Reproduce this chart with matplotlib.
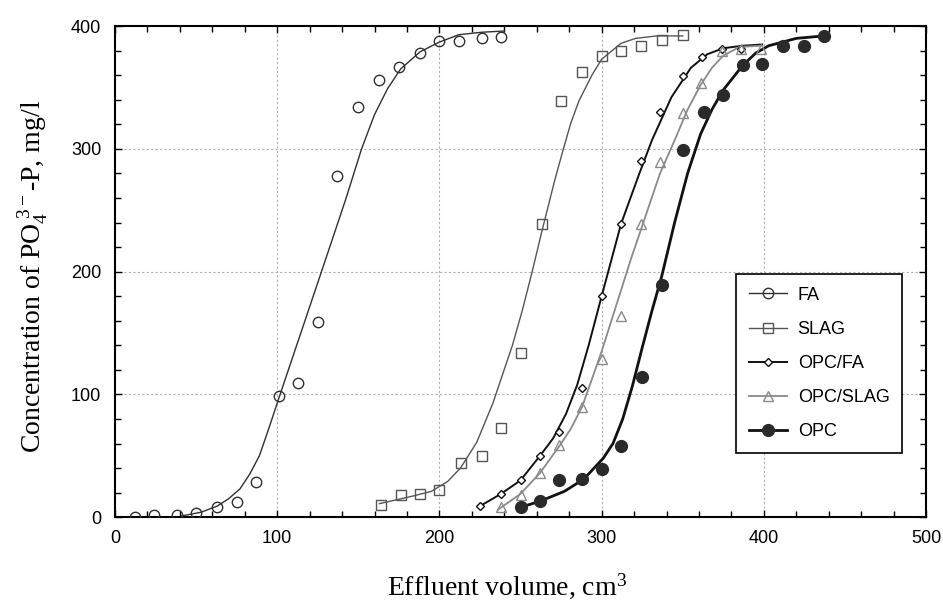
import numpy as np
import matplotlib
matplotlib.use("Agg")
import matplotlib.pyplot as plt
from matplotlib.ticker import MultipleLocator

# measured points (effluent volume cm3, P concentration mg/l)
fa_x = [12, 24, 38, 50, 63, 75, 87, 101, 113, 125, 137, 150, 163, 175, 188, 200, 212, 226, 238]
fa_y = [0, 1.5, 2, 3.5, 8, 12, 29, 99, 109, 159, 278, 334, 356, 367, 378, 388, 388, 390, 391]
slag_x = [164, 176, 188, 200, 213, 226, 238, 250, 263, 275, 288, 300, 312, 324, 337, 350]
slag_y = [10, 18, 19, 22, 44, 50, 73, 134, 239, 339, 363, 376, 380, 384, 389, 393]
opcfa_x = [225, 238, 250, 262, 274, 288, 300, 312, 324, 336, 350, 362, 374, 386]
opcfa_y = [9, 19, 30, 50, 69, 105, 180, 239, 290, 330, 359, 375, 381, 381]
opcslag_x = [238, 250, 262, 274, 288, 300, 312, 324, 336, 350, 361, 374, 386, 398]
opcslag_y = [8, 18, 36, 59, 90, 129, 164, 239, 289, 329, 354, 380, 381, 381]
opc_x = [250, 262, 274, 288, 300, 312, 325, 337, 350, 363, 375, 387, 399, 412, 425, 437]
opc_y = [8, 13, 30, 31, 39, 58, 114, 189, 299, 330, 344, 368, 369, 384, 384, 392]

# fitted curves
fa_fit_x = [41, 53, 63, 70, 77, 83, 89, 95, 101, 113, 126, 142, 152, 160, 168, 176, 188, 200, 212, 226, 240]
fa_fit_y = [1, 4, 9, 15, 23, 35, 50, 73, 97, 144, 195, 258, 300, 328, 349, 365, 379, 387, 393, 395, 396]
slag_fit_x = [163, 183, 195, 205, 213, 223, 233, 245, 251, 257, 263, 271, 276, 281, 286, 294, 300, 312, 321, 334, 350]
slag_fit_y = [11, 17, 21, 29, 40, 61, 93, 140, 168, 199, 232, 274, 298, 321, 339, 360, 373, 386, 390, 392, 392]
opcfa_fit_x = [225, 238, 250, 262, 270, 278, 285, 292, 300, 312, 323, 331, 343, 355, 365, 375, 387, 399]
opcfa_fit_y = [9, 19, 30, 50, 64, 84, 108, 140, 180, 239, 279, 307, 342, 366, 377, 382, 384, 385]
opcslag_fit_x = [236, 250, 262, 274, 281, 288, 300, 318, 336, 345, 353, 361, 368, 375, 385, 398]
opcslag_fit_y = [6, 19, 36, 58, 72, 90, 135, 210, 280, 307, 332, 352, 366, 376, 383, 384]
opc_fit_x = [250, 262, 277, 289, 301, 307, 313, 319, 325, 331, 337, 345, 353, 361, 368, 375, 387, 395, 403, 420, 437]
opc_fit_y = [8, 13, 21, 31, 48, 60, 80, 107, 138, 168, 196, 240, 280, 312, 332, 348, 368, 378, 384, 390, 392]

plt.rcParams["font.family"] = ["Liberation Sans", "DejaVu Sans"]
plt.rcParams["mathtext.fontset"] = "custom"
plt.rcParams["mathtext.rm"] = "Liberation Serif"
plt.rcParams["mathtext.it"] = "Liberation Serif"

fig = plt.figure(figsize=(9.43, 6.07), dpi=100)
ax = fig.add_axes([0.122, 0.148, 0.860, 0.809])

series = [
    ("FA", fa_x, fa_y, fa_fit_x, fa_fit_y,
     dict(marker="o", ms=7.5, mfc="none", mec="#303030", mew=1.0), "#303030", 1.0),
    ("SLAG", slag_x, slag_y, slag_fit_x, slag_fit_y,
     dict(marker="s", ms=7.5, mfc="none", mec="#555555", mew=1.0), "#555555", 1.0),
    ("OPC/FA", opcfa_x, opcfa_y, opcfa_fit_x, opcfa_fit_y,
     dict(marker="D", ms=4.5, mfc="white", mec="#111111", mew=1.0), "#111111", 1.4),
    ("OPC/SLAG", opcslag_x, opcslag_y, opcslag_fit_x, opcslag_fit_y,
     dict(marker="^", ms=7, mfc="none", mec="#8a8a8a", mew=1.0), "#8a8a8a", 1.3),
    ("OPC", opc_x, opc_y, opc_fit_x, opc_fit_y,
     dict(marker="o", ms=8.5, mfc="#2a2a2a", mec="#2a2a2a", mew=1.0), "#111111", 2.0),
]

handles = []
for name, x, y, fx, fy, mk, lc, lw in series:
    ax.plot(fx, fy, color=lc, lw=lw, zorder=3)
    ax.plot(x, y, ls="none", zorder=4, **mk)
    h, = ax.plot([], [], color=lc, lw=lw, **mk)
    h.set_label(name)
    handles.append(h)

ax.set_xlim(0, 500)
ax.set_ylim(0, 400)
ax.xaxis.set_major_locator(MultipleLocator(100))
ax.yaxis.set_major_locator(MultipleLocator(100))
ax.xaxis.set_minor_locator(MultipleLocator(20))
ax.yaxis.set_minor_locator(MultipleLocator(20))
ax.tick_params(which="both", direction="in", top=True, right=True, labelsize=13, width=1)
ax.tick_params(which="major", length=5)
ax.tick_params(which="minor", length=4)
ax.tick_params(axis="x", pad=9)
ax.tick_params(axis="y", pad=10)
ax.grid(True, which="major", ls=(0, (2, 2)), color="#b0b0b0", lw=0.8)
for s in ax.spines.values():
    s.set_linewidth(1.5)

ax.set_xlabel(r"Effluent volume, cm$^3$", family="Liberation Serif", fontsize=20)
ax.xaxis.set_label_coords(0.483, -0.11)
ax.set_ylabel(r"Concentration of PO$_4^{\ 3-}$-P, mg/l", family="Liberation Serif", fontsize=20)
ax.yaxis.set_label_coords(-0.08, 0.49)

leg = ax.legend(handles=handles, loc="upper left", bbox_to_anchor=(0.766, 0.495),
                borderaxespad=0, fontsize=13, frameon=True, fancybox=False, framealpha=1,
                edgecolor="black", handlelength=2.1, labelspacing=0.95,
                borderpad=0.7, handletextpad=0.6)
leg.get_frame().set_linewidth(1.2)

fig.savefig("out.png", dpi=100)
